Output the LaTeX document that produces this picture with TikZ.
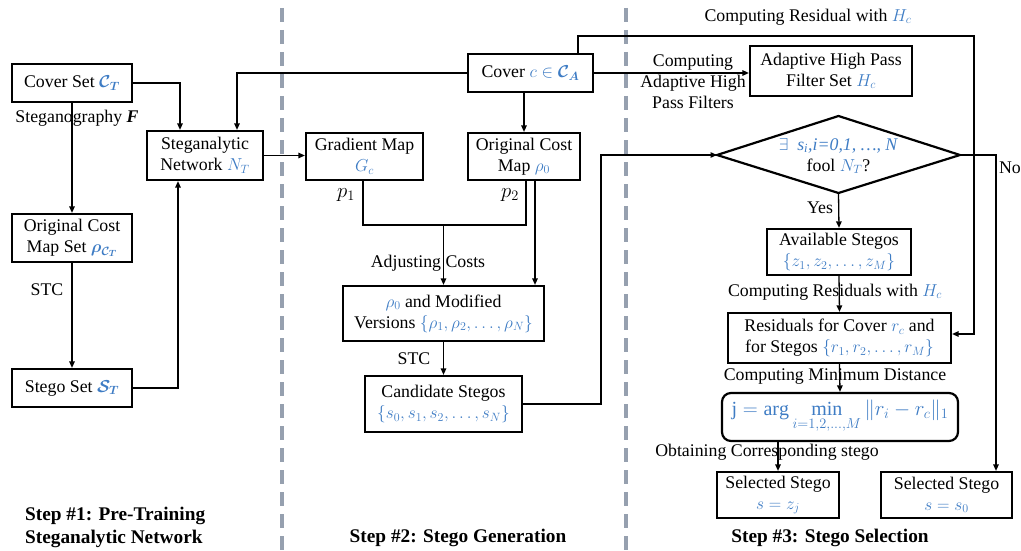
\documentclass[tikz,border=0pt]{standalone}
\usepackage{amsmath}
\usepackage{fontspec}
\setmainfont{Liberation Serif}
\usetikzlibrary{arrows.meta,calc}
\definecolor{hb}{RGB}{62,124,196}
\definecolor{dgray}{RGB}{150,160,175}
\newcommand{\bl}[1]{\textcolor{hb}{#1}}
\begin{document}
\begin{tikzpicture}[x=1pt,y=-1pt,
  every node/.style={font=\fontsize{17.8}{21}\selectfont, inner sep=0pt},
  box/.style={draw, line width=2.2pt, align=center},
  rbox/.style={draw, line width=2.2pt, rounded corners=9pt, align=center},
  conn/.style={line width=1.3pt},
  arr/.style={line width=1.3pt, -{Triangle[length=6.5pt,width=5.5pt]}},
  lbl/.style={align=center},
  plbl/.style={font=\fontsize{22}{24}\selectfont},
  steplbl/.style={font=\fontsize{19.3}{23}\selectfont\bfseries, align=left},
  sep/.style={draw=dgray, line width=3.2pt, dash pattern=on 14pt off 8pt}
]
\path[use as bounding box] (0,0) rectangle (1021,551);

% separators
\draw[sep] (282,8) -- (282,551);
\draw[sep] (626,8) -- (626,551);

% Step 1 nodes
\node[box, minimum width=120, minimum height=38] (cs) at (72,83) {Cover Set \bl{$\boldsymbol{\mathcal{C}_T}$}};
\node[box, minimum width=120, minimum height=48] (oc) at (72,238) {Original Cost\\Map Set \bl{$\boldsymbol{\rho_{\mathcal{C}_T}}$}};
\node[box, minimum width=120, minimum height=38] (ss) at (72,388) {Stego Set \bl{$\boldsymbol{\mathcal{S}_T}$}};
\node[box, minimum width=116, minimum height=49] (sn) at (205,155.5) {Steganalytic\\Network \bl{$N_T$}};

% Step 2 nodes
\node[box, minimum width=125, minimum height=38] (cc) at (530.5,73) {Cover \bl{$c\in\boldsymbol{\mathcal{C}_A}$}};
\node[box, minimum width=117, minimum height=47] (gm) at (364.5,156.5) {Gradient Map\\\bl{$G_c$}};
\node[box, minimum width=112, minimum height=47] (om) at (524,156.5) {Original Cost\\Map \bl{$\rho_0$}};
\node[box, minimum width=201, minimum height=55] (rv) at (443.5,313.5) {\bl{$\rho_0$} and Modified\\Versions \bl{$\{\rho_1,\rho_2,\ldots,\rho_N\}$}};
\node[box, minimum width=157, minimum height=56] (cand) at (443.5,404) {Candidate Stegos\\\bl{$\{s_0,s_1,s_2,\ldots,s_N\}$}};

% Step 3 nodes
\node[box, minimum width=162, minimum height=50] (ah) at (831,71) {Adaptive High Pass\\Filter Set \bl{$H_c$}};
\coordinate (dl) at (717,155);
\coordinate (dr) at (960,155);
\coordinate (dt) at (838.5,116);
\coordinate (db) at (838.5,193);
\draw[line width=2.2pt, line join=miter] (dl) -- (dt) -- (dr) -- (db) -- cycle;
\node[lbl] (dtext) at (838.5,156) {\bl{$\exists$\ \ \textit{s}\textsubscript{\textit{i}}\textit{,i=0,1, \ldots, N}}\\fool \bl{$N_T$}?};
\node[box, minimum width=144, minimum height=46] (av) at (839,252) {Available Stegos\\\bl{$\{z_1,z_2,\ldots,z_M\}$}};
\node[box, minimum width=223, minimum height=50] (res) at (839.5,338) {Residuals for Cover \bl{$r_c$} and\\for Stegos \bl{$\{r_1,r_2,\ldots,r_M\}$}};
\node[rbox, minimum width=236, minimum height=48] (jm) at (840,417) {\fontsize{20}{24}\selectfont\bl{$\mathrm{j}=\arg\min\limits_{i=1,2,\ldots,M}\|r_i-r_c\|_1$}};
\node[box, minimum width=122, minimum height=46] (sel1) at (778,495) {Selected Stego\\\bl{$s=z_j$}};
\node[box, minimum width=131, minimum height=46] (sel2) at (946.5,495) {Selected Stego\\\bl{$s=s_0$}};

% labels
\node[lbl] (lF) at (77,118) {Steganography \textbf{\textit{F}}};
\node[lbl] (lstc1) at (47,290) {STC};
\node[plbl] (lp1) at (346,195) {$p_1$};
\node[plbl] (lp2) at (510,195) {$p_2$};
\node[lbl] (ladj) at (428,263) {Adjusting Costs};
\node[lbl] (lstc2) at (414,359) {STC};
\node[lbl] (lcah) at (693,82) {Computing\\Adaptive High\\Pass Filters};
\node[lbl] (lres1) at (808,17) {Computing Residual with \bl{$H_c$}};
\node[lbl] (lyes) at (820,208) {Yes};
\node[lbl] (lno) at (1010,168) {No};
\node[lbl] (lres2) at (835,292) {Computing Residuals with \bl{$H_c$}};
\node[lbl] (lmin) at (835,377) {Computing Minimum Distance};
\node[lbl] (lobt) at (767,452) {Obtaining Corresponding stego};
\node[steplbl, anchor=west] (s1) at (25,527) {Step \#1: Pre-Training\\Steganalytic Network};
\node[steplbl] (s2) at (458,538) {Step \#2: Stego Generation};
\node[steplbl] (s3) at (830,538) {Step \#3: Stego Selection};

% connectors step 1
\draw[arr] (cs.east) -| ([xshift=-25]sn.north);
\draw[arr] (cc.west) -| ([xshift=32]sn.north);
\draw[arr] (cs.south) -- (oc.north);
\draw[arr] (oc.south) -- (ss.north);
\draw[arr] (ss.east) -| ([xshift=-27]sn.south);
\draw[arr] (sn.east) -- (gm.west |- sn.east);

% connectors step 2
\draw[arr] (om.north |- cc.south) -- (om.north);
\coordinate (mg) at (443.5,225);
\draw[conn] ([xshift=-1.5]gm.south) |- (mg) -| ([xshift=2]om.south);
\draw[arr] (mg) -- (rv.north);
\draw[arr] ([xshift=11]om.south) -- ([xshift=11]om.south |- rv.north);
\draw[arr] (rv.south) -- (cand.north);
\coordinate (cj) at (601,404);
\draw[arr] (cand.east) -- (cj) |- (dl);

% connectors step 3
\draw[arr] (cc.east) -- (ah.west |- cc.east);
\coordinate (rt) at (974,36);
\draw[arr] ([xshift=47.5]cc.north) |- (rt) |- ([yshift=4]res.east);
\draw[arr] (dr) -| ([xshift=49.5]sel2.north);
\draw[arr] (db) -- (av.north);
\draw[arr] (av.south) -- (res.north);
\draw[arr] (res.south) -- (jm.north);
\draw[arr] (sel1.north |- jm.south) -- (sel1.north);
\end{tikzpicture}
\end{document}
